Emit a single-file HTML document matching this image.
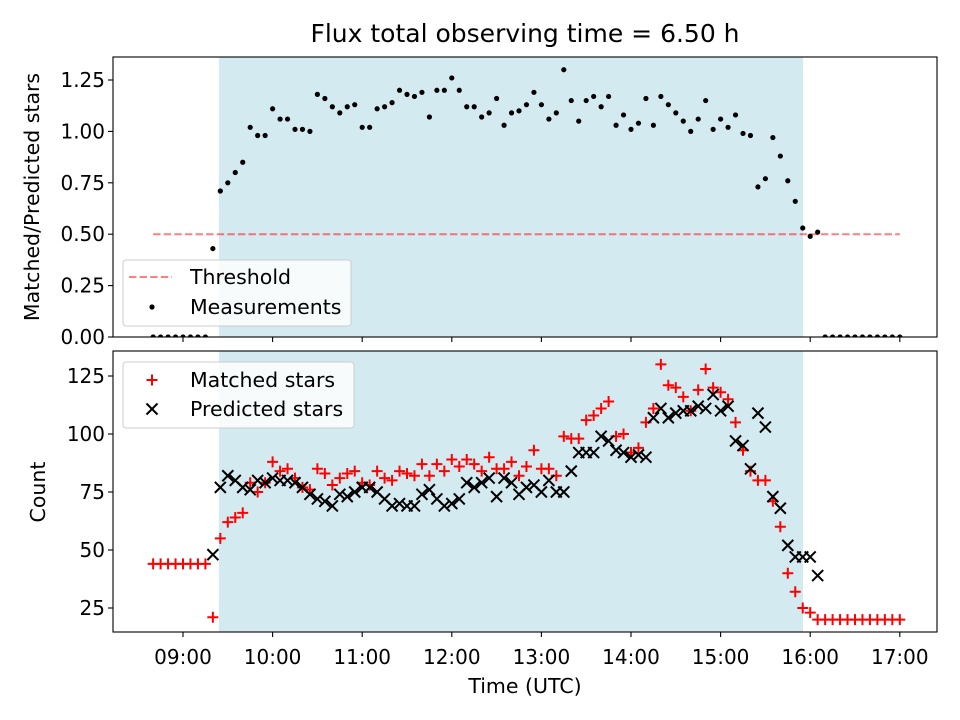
<!DOCTYPE html>
<html><head><meta charset="utf-8"><style>
body{margin:0;background:#fff}
svg{display:block;font-family:"DejaVu Sans","Liberation Sans",sans-serif}
</style></head><body>
<svg id="fig" width="960" height="720" viewBox="0 0 960 720"></svg>
<script>
// ---- data ----
const startMinutes = 8*60+40; // first sample 08:40, 5-min cadence
const stepMinutes = 5;
const ratioValues = [0,0,0,0,0,0,0,0,
0.43,0.71,0.75,0.80,0.85,1.02,0.98,0.98,1.11,1.06,1.06,1.01,1.01,1.00,1.18,1.16,1.12,1.09,1.12,1.13,1.02,1.02,1.11,1.12,1.14,1.20,1.18,1.17,1.19,1.07,1.20,1.20,1.26,1.20,1.12,1.12,1.07,1.09,1.16,1.03,1.09,1.10,1.13,1.19,
1.13,1.06,1.09,1.30,1.15,1.05,1.15,1.17,1.12,1.17,1.03,1.08,1.01,1.04,1.16,1.03,1.17,1.13,1.09,1.05,1.00,1.06,1.15,1.01,1.06,1.02,1.08,0.99,0.98,0.73,0.77,0.97,0.88,0.76,0.66,0.53,0.49,0.51,
0,0,0,0,0,0,0,0,0,0,0];
const matchedValues = [44,44,44,44,44,44,44,44,
21,55,62,64,66,79,75,79,88,84,85,81,77,76,85,83,78,81,83,84,79,78,84,81,80,84,83,82,87,82,87,84,89,86,89,87,84,90,85,85,88,82,86,93,85,85,82,99,98,98,106,
108,111,114,99,100,92,94,105,111,130,121,120,116,110,119,128,120,118,115,105,93,84,80,80,71,60,40,32,25,23,20,
20,20,20,20,20,20,20,20,20,20,20];
const predictedValues = [null,null,null,null,null,null,null,null,
48,77,82,80,77,76,80,79,81,80,80,79,77,74,72,71,69,74,73,75,77,77,75,72,69,70,69,69,74,76,72,69,70,72,79,77,79,81,73,81,79,74,77,78,75,80,75,75,84,92,92,
92,99,97,93,92,90,91,90,107,111,107,109,110,110,112,111,117,110,112,97,95,85,109,103,73,68,52,47,47,47,39,
null,null,null,null,null,null,null,null,null,null,null];
const xTickHours = [9,10,11,12,13,14,15,16,17];
const xTickLabels = ["09:00","10:00","11:00","12:00","13:00","14:00","15:00","16:00","17:00"];
const topTicks = [0,0.25,0.5,0.75,1.0,1.25];
const topTickLabels = ["0.00","0.25","0.50","0.75","1.00","1.25"];
const botTicks = [25,50,75,100,125];
const threshold = 0.5;
const thresholdSpan = [8+40/60, 17];
const shadeSpan = [9.4, 15.92];

// ---- geometry ----
const NS="http://www.w3.org/2000/svg";
const svg=document.getElementById('fig');
const L=113,R=937, T1=57,B1=337, T2=351,B2=632;
const FT=20, FL=20.5;
const xS=h=>183+(h-9)*89.6;
const y1=v=>337-v*205.6;
const y2=v=>376+(125-v)*2.32;
function el(tag,attrs,parent){const e=document.createElementNS(NS,tag);for(const k in attrs)e.setAttribute(k,attrs[k]);(parent||svg).appendChild(e);return e;}
function txt(s,attrs,parent){const e=el('text',attrs,parent);e.textContent=s;return e;}
const times=ratioValues.map((_,i)=>(startMinutes+i*stepMinutes)/60);

function panel(top,bot,name){
  const g=el('g',{});
  
  
  const cp=el('clipPath',{id:'cp-'+name},g);
  el('rect',{x:L,y:top,width:R-L,height:bot-top},cp);
  const sh=el('rect',{x:xS(shadeSpan[0]),y:top,width:xS(shadeSpan[1])-xS(shadeSpan[0]),height:bot-top,fill:'#d4eaf1'},g);
  
  
  const inner=el('g',{'clip-path':'url(#cp-'+name+')'},g);
  return {g,inner};
}
function frame(g,top,bot){
  el('rect',{x:L,y:top,width:R-L,height:bot-top,fill:'none',stroke:'#000','stroke-width':1.1},g);
}
function xticks(g,bot,labels){
  xTickHours.forEach((h,i)=>{
    el('line',{x1:xS(h),x2:xS(h),y1:bot,y2:bot+5,stroke:'#000','stroke-width':1.1},g);
    if(labels){const t=txt(xTickLabels[i],{x:xS(h),y:664,'text-anchor':'middle','font-size':FT},g);
      
      }
  });
}

// ---- title ----
const title=txt('Flux total observing time = 6.50 h',{x:525,y:42,'text-anchor':'middle','font-size':25});



// ---- top panel ----
const P1=panel(T1,B1,'ratio-panel');
const thr=el('line',{x1:xS(thresholdSpan[0]),x2:xS(thresholdSpan[1]),y1:y1(threshold),y2:y1(threshold),stroke:'#ff0000','stroke-opacity':0.5,'stroke-width':2,'stroke-dasharray':'7.4,3.2'},P1.inner);


ratioValues.forEach((v,i)=>{
  const c=el('circle',{cx:xS(times[i]),cy:y1(v),r:2.6,fill:'#000'},P1.inner);
  
  
});
frame(P1.g,T1,B1);
xticks(P1.g,B1,false);
topTicks.forEach((v,i)=>{
  el('line',{x1:L-5,x2:L,y1:y1(v),y2:y1(v),stroke:'#000','stroke-width':1.1},P1.g);
  const t=txt(topTickLabels[i],{x:L-8,y:y1(v)+7,'text-anchor':'end','font-size':FT},P1.g);
  
  
});
const yl1=txt('Matched/Predicted stars',{transform:'translate(39,197) rotate(-90)','text-anchor':'middle','font-size':FL});



// legend top
const lg1=el('g',{});


el('rect',{x:123,y:260,width:228,height:66,rx:3,fill:'#fff','fill-opacity':0.8,stroke:'#ccc'},lg1);
el('line',{x1:129,x2:172,y1:277,y2:277,stroke:'#ff0000','stroke-opacity':0.5,'stroke-width':2,'stroke-dasharray':'7.4,3.2'},lg1);
txt('Threshold',{x:190,y:284,'font-size':FL},lg1);
el('circle',{cx:152,cy:307,r:2.6,fill:'#000'},lg1);
txt('Measurements',{x:190,y:314,'font-size':FL},lg1);

// ---- bottom panel ----
const P2=panel(T2,B2,'count-panel');
matchedValues.forEach((v,i)=>{
  if(v==null)return;
  const x=xS(times[i]),y=y2(v);
  const p=el('path',{d:`M${x-5.5},${y}H${x+5.5}M${x},${y-5.5}V${y+5.5}`,stroke:'#ff0000','stroke-width':2,fill:'none'},P2.inner);
  
  
});
predictedValues.forEach((v,i)=>{
  if(v==null)return;
  const x=xS(times[i]),y=y2(v);
  const p=el('path',{d:`M${x-5.5},${y-5.5}L${x+5.5},${y+5.5}M${x-5.5},${y+5.5}L${x+5.5},${y-5.5}`,stroke:'#000','stroke-width':2,fill:'none'},P2.inner);
  
  
});
frame(P2.g,T2,B2);
xticks(P2.g,B2,true);
botTicks.forEach(v=>{
  el('line',{x1:L-5,x2:L,y1:y2(v),y2:y2(v),stroke:'#000','stroke-width':1.1},P2.g);
  const t=txt(String(v),{x:L-8,y:y2(v)+7,'text-anchor':'end','font-size':FT},P2.g);
  
  
});
const yl2=txt('Count',{transform:'translate(45,492) rotate(-90)','text-anchor':'middle','font-size':FL});


const xl=txt('Time (UTC)',{x:525,y:693,'text-anchor':'middle','font-size':FL});



// legend bottom
const lg2=el('g',{});


el('rect',{x:123,y:362,width:231,height:66,rx:3,fill:'#fff','fill-opacity':0.8,stroke:'#ccc'},lg2);
el('path',{d:'M146.5,380H157.5M152,374.5V385.5',stroke:'#ff0000','stroke-width':2},lg2);
txt('Matched stars',{x:190,y:387,'font-size':FL},lg2);
el('path',{d:'M146.5,403.5L157.5,414.5M146.5,414.5L157.5,403.5',stroke:'#000','stroke-width':2},lg2);
txt('Predicted stars',{x:190,y:416,'font-size':FL},lg2);
</script>
</body></html>
